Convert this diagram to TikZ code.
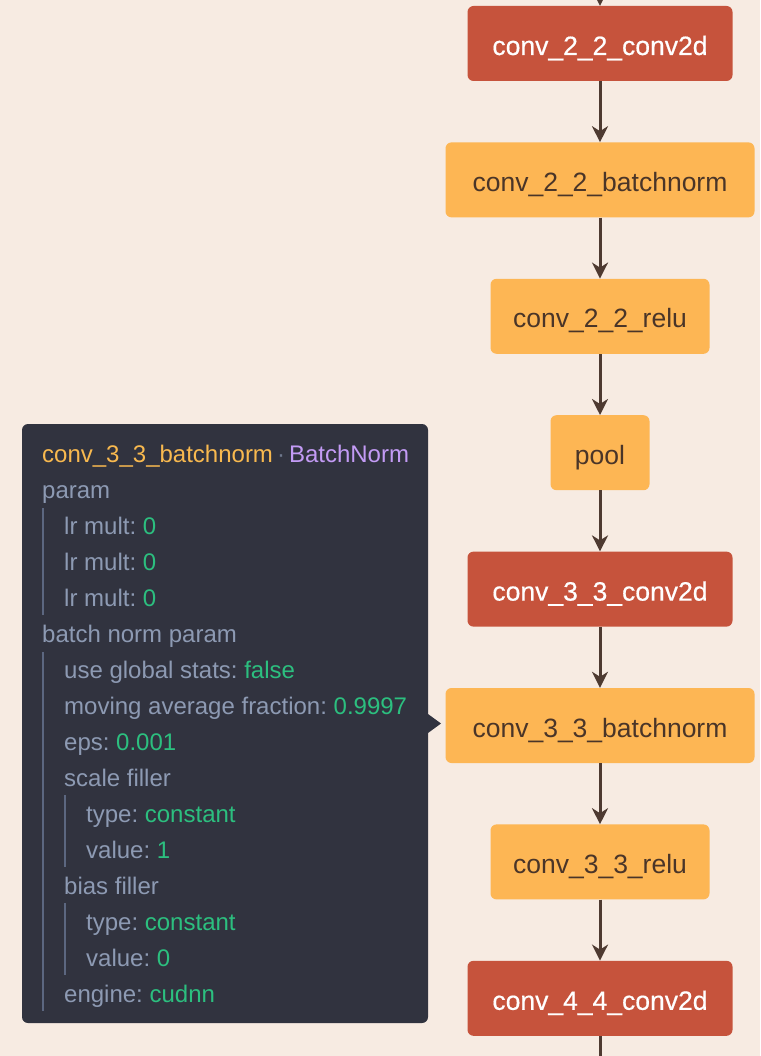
\documentclass[tikz,border=0pt]{standalone}
\usepackage{fontspec}
\setmainfont{Liberation Sans}
\newfontfamily\medfont[FakeBold=0.5]{Liberation Sans}
\usetikzlibrary{arrows.meta, positioning}
\definecolor{canvas}{HTML}{F7EBE2}
\definecolor{convred}{HTML}{C6533C}
\definecolor{actorange}{HTML}{FDB654}
\definecolor{inktext}{HTML}{4A3528}
\definecolor{edgebrown}{HTML}{4E3A31}
\definecolor{tipbg}{HTML}{31333F}
\definecolor{tipkey}{HTML}{8D9AB3}
\definecolor{tipval}{HTML}{2CBF7F}
\definecolor{tiptitle}{HTML}{F8B94F}
\definecolor{tiptype}{HTML}{C39BF5}
\definecolor{tipbar}{HTML}{5C6780}
\definecolor{tipdot}{HTML}{6E778C}
\newcommand{\val}[1]{\textcolor{tipval}{#1}}
\frenchspacing

\begin{document}
\begin{tikzpicture}[x=1pt, y=-1pt,
  node distance=61pt,
  layer/.style={rectangle, rounded corners=6pt, minimum height=75pt,
    text centered, inner sep=0pt, text height=23pt, text depth=0pt,
    font=\fontsize{26.5}{30}\selectfont},
  conv/.style={layer, fill=convred, text=white, font=\fontsize{26.5}{30}\medfont},
  act/.style={layer, fill=actorange, text=inktext},
  arrow/.style={-{Stealth[length=16pt, width=16pt, inset=5pt]}, line width=3pt, draw=edgebrown},
  tipline/.style={anchor=base west, inner sep=0pt, text=tipkey, font=\fontsize{24}{28}\selectfont},
  tipbarline/.style={draw=tipbar, line width=2pt}
]
\useasboundingbox[fill=canvas] (0,0) rectangle (760,1056);

% layer chain
\node (c22) [conv, minimum width=265pt] at (600,43.5) {conv\_2\_2\_conv2d};
\node (b22) [act, minimum width=309pt, below=of c22] {conv\_2\_2\_batchnorm};
\node (r22) [act, minimum width=219pt, below=of b22] {conv\_2\_2\_relu};
\node (pool) [act, minimum width=99pt, below=of r22] {pool};
\node (c33) [conv, minimum width=265pt, below=of pool] {conv\_3\_3\_conv2d};
\node (b33) [act, minimum width=309pt, below=of c33] {conv\_3\_3\_batchnorm};
\node (r33) [act, minimum width=219pt, below=of b33] {conv\_3\_3\_relu};
\node (c44) [conv, minimum width=265pt, below=of r33] {conv\_4\_4\_conv2d};
\coordinate (intop) at (600,-4);
\coordinate (outbot) at (600,1060);

\draw [arrow] (intop) -- (c22);
\draw [arrow] (c22) -- (b22);
\draw [arrow] (b22) -- (r22);
\draw [arrow] (r22) -- (pool);
\draw [arrow] (pool) -- (c33);
\draw [arrow] (c33) -- (b33);
\draw [arrow] (b33) -- (r33);
\draw [arrow] (r33) -- (c44);
\draw [line width=3pt, draw=edgebrown] (c44) -- (outbot);

% tooltip
\node (tip) [rectangle, rounded corners=6pt, fill=tipbg, minimum width=406pt, minimum height=599pt, inner sep=0pt] at (225,723.5) {};
\fill [tipbg] (428,714) -- (441,723.5) -- (428,733) -- cycle;

\node (ttitle) [tipline] at (42,462) {\textcolor{tiptitle}{conv\_3\_3\_batchnorm}\hspace{4pt}\textcolor{tipdot}{·}\hspace{4pt}\textcolor{tiptype}{BatchNorm}};
\node (tparam) [tipline] at (42,498) {param};
\node (tlr1) [tipline] at (64,534) {lr mult: \val{0}};
\node (tlr2) [tipline] at (64,570) {lr mult: \val{0}};
\node (tlr3) [tipline] at (64,606) {lr mult: \val{0}};
\node (tbn) [tipline] at (42,642) {batch norm param};
\node (tglob) [tipline] at (64,678) {use global stats: \val{false}};
\node (tmov) [tipline] at (64,714) {moving average fraction: \val{0.9997}};
\node (teps) [tipline] at (64,750) {eps: \val{0.001}};
\node (tscale) [tipline] at (64,786) {scale filler};
\node (tstype) [tipline] at (86,822) {type: \val{constant}};
\node (tsval) [tipline] at (86,858) {value: \val{1}};
\node (tbias) [tipline] at (64,894) {bias filler};
\node (tbtype) [tipline] at (86,930) {type: \val{constant}};
\node (tbval) [tipline] at (86,966) {value: \val{0}};
\node (teng) [tipline] at (64,1002) {engine: \val{cudnn}};

% nesting bars
\draw [tipbarline] (43,508) -- (43,615);
\draw [tipbarline] (43,652) -- (43,1011);
\draw [tipbarline] (65,795) -- (65,867);
\draw [tipbarline] (65,903) -- (65,975);
\end{tikzpicture}
\end{document}
